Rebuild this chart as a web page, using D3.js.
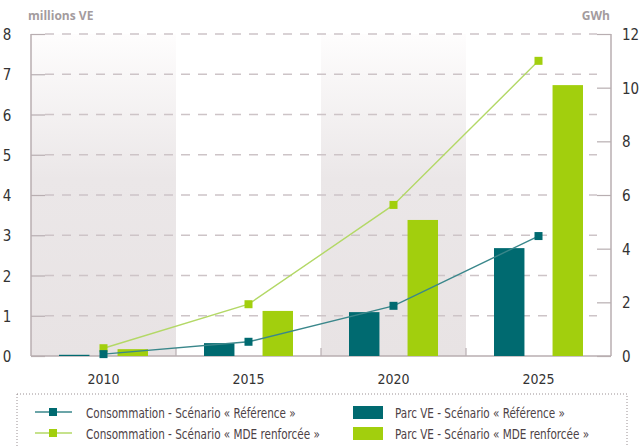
<!DOCTYPE html>
<html>
<head>
<meta charset="utf-8">
<script src="https://cdn.jsdelivr.net/npm/d3@7"></script>
<style>
body{margin:0;background:#fff;}
svg text{font-family:"DejaVu Sans Condensed","DejaVu Sans",sans-serif;font-stretch:condensed;}
</style>
</head>
<body>
<div id="chart"></div>
<script>
// data
var years = ["2010", "2015", "2020", "2025"];
var parcRef = [0.03, 0.32, 1.09, 2.68];      // millions VE
var parcMde = [0.17, 1.12, 3.38, 6.73];      // millions VE
var consoRef = [0.07, 0.53, 1.87, 4.47];     // GWh
var consoMde = [0.29, 1.93, 5.63, 11.0];     // GWh
var leftTicks = [0, 1, 2, 3, 4, 5, 6, 7, 8];
var rightTicks = [0, 2, 4, 6, 8, 10, 12];
var legendLabels = [
	"Consommation - Scénario « Référence »",
	"Consommation - Scénario « MDE renforcée »",
	"Parc VE - Scénario « Référence »",
	"Parc VE - Scénario « MDE renforcée »"
];

var W = 640, H = 447;
var teal = "#006a70", green = "#a2cf0d";
var axisCol = "#b8aeb1";

var svg = d3.select("#chart").append("svg")
	.attr("width", W).attr("height", H);

var pLeft = 31, pRight = 611, pTop = 34, pBottom = 356;

var x = d3.scaleBand().domain(years).range([pLeft, pRight]);
var inner = d3.scaleBand().domain(["ref", "mde"]).range([28, 117]).paddingInner(0.48);
var yL = d3.scaleLinear().domain([0, 8]).range([pBottom, pTop]);
var yR = d3.scaleLinear().domain([0, 12]).range([pBottom, pTop]);

// shaded bands gradient
var defs = svg.append("defs");
var grad = defs.append("linearGradient").attr("id", "band")
	.attr("x1", 0).attr("y1", 0).attr("x2", 0).attr("y2", 1);
grad.append("stop").attr("offset", "0%").attr("stop-color", "#fefdfd");
grad.append("stop").attr("offset", "45%").attr("stop-color", "#ebe7e8");
grad.append("stop").attr("offset", "100%").attr("stop-color", "#e8e3e4");

svg.selectAll("rect.band")
	.data(years.filter(function(d, i){ return i % 2 == 0; }))
	.enter().append("rect")
	.attr("class", "band")
	.attr("x", function(d){ return x(d); })
	.attr("y", pTop)
	.attr("width", x.bandwidth())
	.attr("height", pBottom - pTop)
	.attr("fill", "url(#band)");

// dashed grid
svg.selectAll("line.grid")
	.data(leftTicks.filter(function(d){ return d > 0; }))
	.enter().append("line")
	.attr("class", "grid")
	.attr("x1", pLeft + 14).attr("x2", pRight - 14)
	.attr("y1", function(d){ return yL(d); })
	.attr("y2", function(d){ return yL(d); })
	.attr("stroke", "#cdc4c7")
	.attr("stroke-width", 1.3)
	.attr("stroke-dasharray", "9,8");

// left axis
var gL = svg.append("g").attr("transform", "translate(" + pLeft + ",0)")
	.call(d3.axisRight(yL).tickValues(leftTicks).tickSize(14).tickFormat(""));
gL.select(".domain").remove();
gL.selectAll("line").attr("stroke", axisCol).attr("stroke-width", 1.2);
svg.append("line").attr("x1", pLeft).attr("x2", pLeft).attr("y1", pTop).attr("y2", pBottom)
	.attr("stroke", axisCol).attr("stroke-width", 1.5);
svg.selectAll("text.yl").data(leftTicks).enter().append("text")
	.attr("class", "yl")
	.attr("x", 7).attr("y", function(d){ return yL(d) + 6; })
	.attr("text-anchor", "middle")
	.attr("font-size", 15).attr("fill", "#333")
	.text(function(d){ return d; });

// right axis
var gR = svg.append("g").attr("transform", "translate(" + pRight + ",0)")
	.call(d3.axisLeft(yR).tickValues(rightTicks).tickSize(14).tickFormat(""));
gR.select(".domain").remove();
gR.selectAll("line").attr("stroke", axisCol).attr("stroke-width", 1.2);
svg.append("line").attr("x1", pRight).attr("x2", pRight).attr("y1", pTop).attr("y2", pBottom)
	.attr("stroke", axisCol).attr("stroke-width", 1.5);
svg.selectAll("text.yr").data(rightTicks).enter().append("text")
	.attr("class", "yr")
	.attr("x", 622).attr("y", function(d){ return yR(d) + 6; })
	.attr("font-size", 15).attr("fill", "#333")
	.text(function(d){ return d; });

// bottom axis
svg.append("line").attr("x1", pLeft).attr("x2", pRight).attr("y1", pBottom).attr("y2", pBottom)
	.attr("stroke", axisCol).attr("stroke-width", 1.5);
svg.selectAll("line.xt").data(years.slice(1)).enter().append("line")
	.attr("class", "xt")
	.attr("x1", function(d){ return x(d); }).attr("x2", function(d){ return x(d); })
	.attr("y1", pBottom - 8).attr("y2", pBottom)
	.attr("stroke", axisCol).attr("stroke-width", 1.2);
svg.selectAll("text.xl").data(years).enter().append("text")
	.attr("class", "xl")
	.attr("x", function(d){ return x(d) + x.bandwidth() / 2; })
	.attr("y", 384)
	.attr("text-anchor", "middle")
	.attr("font-size", 14).attr("fill", "#333")
	.text(function(d){ return d; });

// unit titles
svg.append("text").attr("x", 28).attr("y", 20).text("millions VE")
	.style("font-family", "'Open Sans', sans-serif").style("font-stretch", "normal")
	.attr("font-weight", "bold").attr("font-size", 12).attr("fill", "#a39b9e");
svg.append("text").attr("x", 610).attr("y", 20).text("GWh")
	.attr("text-anchor", "end")
	.style("font-family", "'Open Sans', sans-serif").style("font-stretch", "normal")
	.attr("font-weight", "bold").attr("font-size", 12).attr("fill", "#a39b9e");

// bars
svg.selectAll("rect.bref").data(parcRef).enter().append("rect")
	.attr("class", "bref")
	.attr("x", function(d, i){ return x(years[i]) + inner("ref"); })
	.attr("y", function(d){ return yL(d); })
	.attr("width", inner.bandwidth())
	.attr("height", function(d){ return pBottom - yL(d); })
	.attr("fill", teal);
svg.selectAll("rect.bmde").data(parcMde).enter().append("rect")
	.attr("class", "bmde")
	.attr("x", function(d, i){ return x(years[i]) + inner("mde"); })
	.attr("y", function(d){ return yL(d); })
	.attr("width", inner.bandwidth())
	.attr("height", function(d){ return pBottom - yL(d); })
	.attr("fill", green);

// lines
var line = d3.line()
	.x(function(d, i){ return x(years[i]) + x.bandwidth() / 2; })
	.y(function(d){ return yR(d); });

function drawSeries(data, lineCol, markCol){
	svg.append("path").datum(data)
		.attr("d", line)
		.attr("fill", "none")
		.attr("stroke", lineCol)
		.attr("stroke-width", 1.4);
	svg.append("g").selectAll("rect").data(data).enter().append("rect")
		.attr("x", function(d, i){ return x(years[i]) + x.bandwidth() / 2 - 4; })
		.attr("y", function(d){ return yR(d) - 4; })
		.attr("width", 8).attr("height", 8)
		.attr("fill", markCol);
}
drawSeries(consoMde, "#b3d866", green);
drawSeries(consoRef, "#3a878b", teal);

// legend
svg.append("rect")
	.attr("x", 17).attr("y", 394).attr("width", 610).attr("height", 70)
	.attr("fill", "none")
	.attr("stroke", "#9a9093")
	.attr("stroke-width", 1)
	.attr("stroke-dasharray", "1,2");

// narrow legend font: squeeze horizontally
function legendText(tx, ty, label){
	legend.append("text")
		.attr("transform", "translate(" + tx + "," + ty + ") scale(0.8,1)")
		.attr("font-size", 14.5).attr("fill", "#4d4246")
		.text(label);
}

var legend = svg.append("g");
var rows = [413, 434];
[teal, green].forEach(function(c, i){
	var lc = i == 0 ? "#3a878b" : "#b3d866";
	legend.append("line").attr("x1", 35).attr("x2", 72)
		.attr("y1", rows[i] - 1).attr("y2", rows[i] - 1)
		.attr("stroke", lc).attr("stroke-width", 1.5);
	legend.append("rect").attr("x", 49).attr("y", rows[i] - 5)
		.attr("width", 8).attr("height", 8).attr("fill", c);
	legendText(86, rows[i] + 5, legendLabels[i]);
	legend.append("rect").attr("x", 353).attr("y", rows[i] - 7)
		.attr("width", 30).attr("height", 13).attr("fill", c);
	legendText(395, rows[i] + 5, legendLabels[i + 2]);
});
</script>
</body>
</html>
